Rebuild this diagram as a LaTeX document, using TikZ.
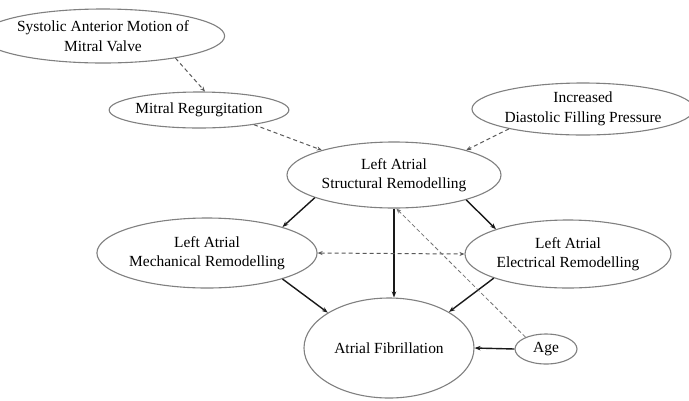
\documentclass[tikz,border=0pt]{standalone}
\usepackage{fontspec}
\setmainfont{Liberation Serif}
\usetikzlibrary{shapes.geometric,arrows.meta}
\begin{document}
\begin{tikzpicture}[x=1bp,y=-1bp,
  oval/.style={ellipse,draw=black!50,line width=1.1bp,inner sep=0pt,align=center,
    font=\fontsize{15.5}{19.5}\selectfont,text=black},
  solidarr/.style={draw=black!90,line width=1.4bp,-{Stealth[length=6bp,width=4.5bp]}},
  dasharr/.style={draw=black!65,line width=1bp,dash pattern=on 4bp off 3bp,-{Stealth[length=5bp,width=4bp]}},
  thindash/.style={draw=black!55,line width=0.8bp,dash pattern=on 4bp off 2.5bp,-{Stealth[length=5bp,width=4bp]}}]
\useasboundingbox[fill=white] (0,0) rectangle (689,400);
\node[oval,minimum width=206bp,minimum height=54bp] (sam) at (103,36) {Systolic Anterior Motion of\\Mitral Valve};
\node[oval,minimum width=152bp,minimum height=36bp] (mr) at (199,110) {Mitral Regurgitation};
\node[oval,minimum width=190bp,minimum height=52bp] (idf) at (583,109) {Increased\\Diastolic Filling Pressure};
\node[oval,minimum width=214bp,minimum height=66bp] (struct) at (394,175) {Left Atrial\\Structural Remodelling};
\node[oval,minimum width=214bp,minimum height=70bp] (mech) at (207,253) {Left Atrial\\Mechanical Remodelling};
\node[oval,minimum width=206bp,minimum height=68bp] (elec) at (568,254) {Left Atrial\\Electrical Remodelling};
\node[oval,minimum width=170bp,minimum height=100bp] (af) at (389,348) {Atrial Fibrillation};
\node[oval,minimum width=62bp,minimum height=30bp] (age) at (546,349) {Age};

\draw[dasharr] (sam.-17) -- (mr.72);
\draw[dasharr] (mr.-15) -- (struct.161);
\draw[dasharr] (idf.195) -- (struct.19);
\draw[solidarr] (struct.196) -- (mech.19);
\draw[solidarr] (struct.-19) -- (elec.161);
\draw[solidarr] (struct.south) -- (struct.south |- af.north);
\draw[dasharr,{Stealth[length=5bp,width=4bp]}-{Stealth[length=5bp,width=4bp]}] (mech.east) -- (elec.west);
\draw[solidarr] (mech.-19) -- (af.150);
\draw[solidarr] (elec.198) -- (af.31);
\draw[solidarr] (age.west) -- (af.east);
\draw[thindash] (age.150) -- (struct.-86);
\end{tikzpicture}
\end{document}
